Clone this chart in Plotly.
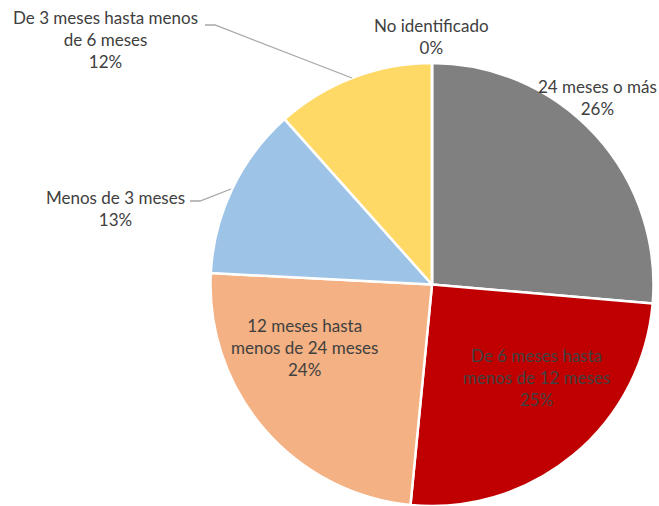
import plotly.graph_objects as go

# tiempo de permanencia (share of cases)
categorias = ["24 meses o más", "De 6 meses hasta menos de 12 meses",
              "12 meses hasta menos de 24 meses", "Menos de 3 meses",
              "De 3 meses hasta menos de 6 meses", "No identificado"]
valores = [26.4, 25.2, 24.3, 12.6, 11.6, 0.0]
etiquetas = ["24 meses o más", "De 6 meses hasta<br>menos de 12 meses",
             "12 meses hasta<br>menos de 24 meses", "Menos de 3 meses",
             "De 3 meses hasta menos<br>de 6 meses", "No identificado"]
colores = ["#808080", "#C00000", "#F4B183", "#9DC3E6", "#FFD966", "#A5A5A5"]

W, H = 659, 506
# label centres in pixels (x, y of first line)
pos_px = [(597, 85), (536, 354), (304, 324), (115, 196), (105, 16), (431, 24)]


def px(x, y):
    return x / W, 1 - y / H


x0, _ = px(432 - 222, 0)
x1, _ = px(432 + 222, 0)
_, ytop = px(0, 63)

fig = go.Figure(go.Pie(
    labels=categorias, values=valores, sort=False, direction="clockwise",
    rotation=0, textinfo="none", hoverinfo="label+percent",
    marker=dict(colors=colores, line=dict(color="white", width=2.5)),
    domain=dict(x=[x0, x1], y=[0, ytop]),
    showlegend=False,
))

total = sum(valores)
for txt, v, (lx, ly) in zip(etiquetas, valores, pos_px):
    ax, ay = px(lx, ly - 11)
    fig.add_annotation(
        x=ax, y=ay, xref="paper", yref="paper",
        xanchor="center", yanchor="top", showarrow=False, align="center",
        text=f"{txt}<br>{round(100 * v / total)}%",
        font=dict(family="Lato", size=17, color="#404040"),
    )

# leader lines
for pts in [[(205, 25), (215, 25), (352, 78)], [(190, 201), (200, 201), (231, 189)]]:
    path = "M " + " L ".join("%f %f" % px(x, y) for x, y in pts)
    fig.add_shape(type="path", path=path, xref="paper", yref="paper",
                  line=dict(color="#A6A6A6", width=1.3))

fig.update_layout(width=W, height=H, margin=dict(l=0, r=0, t=0, b=0),
                  paper_bgcolor="white", plot_bgcolor="white")
# drop the default body margin so the figure fills the window exactly
fig.write_html("out.html", config={"displayModeBar": False},
               post_script="document.body.style.margin='0';"
                           "document.body.style.overflow='hidden';")
